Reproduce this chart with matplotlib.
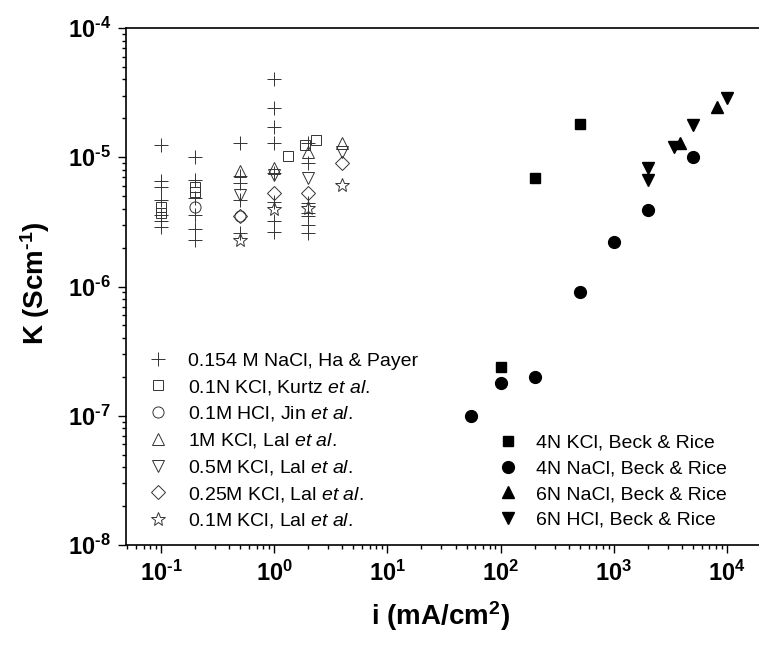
import math
import matplotlib
matplotlib.use("Agg")
import matplotlib.pyplot as plt
from matplotlib.lines import Line2D
from matplotlib.ticker import FuncFormatter, LogLocator, NullFormatter

plt.rcParams['font.family'] = ['Liberation Sans', 'DejaVu Sans']
plt.rcParams['mathtext.fontset'] = 'custom'
plt.rcParams['mathtext.rm'] = 'Liberation Sans'
plt.rcParams['mathtext.it'] = 'Liberation Sans:italic'
plt.rcParams['mathtext.bf'] = 'Liberation Sans:bold'

# --- datos ---
# 0.154 M NaCl, Ha & Payer (+)
ha_x = [0.1, 0.1, 0.1, 0.1, 0.1, 0.1, 0.1,
        0.2, 0.2, 0.2, 0.2, 0.2, 0.2,
        0.5, 0.5, 0.5, 0.5, 0.5,
        1.0, 1.0, 1.0, 1.0, 1.0, 1.0, 1.0, 1.0,
        2.0, 2.0, 2.0, 2.0, 2.0, 2.0, 2.0]
ha_y = [1.25e-5, 6.5e-6, 5.9e-6, 4.7e-6, 3.6e-6, 3.2e-6, 2.9e-6,
        1.0e-5, 6.7e-6, 4.8e-6, 3.6e-6, 2.8e-6, 2.3e-6,
        1.3e-5, 7.1e-6, 6.3e-6, 4.7e-6, 2.6e-6,
        4.0e-5, 2.4e-5, 1.7e-5, 1.29e-5, 7.6e-6, 4.5e-6, 3.2e-6, 2.65e-6,
        1.3e-5, 9.1e-6, 4.4e-6, 3.7e-6, 3.5e-6, 3.0e-6, 2.6e-6]

# 0.1N KCl, Kurtz et al. (cuadrado abierto)
kurtz_x = [0.1, 0.1, 0.2, 0.2, 1.33, 1.87, 2.34]
kurtz_y = [4.1e-6, 3.7e-6, 5.9e-6, 5.4e-6, 1.03e-5, 1.25e-5, 1.36e-5]

# 0.1M HCl, Jin et al. (circulo abierto)
jin_x = [0.2, 0.5]
jin_y = [4.1e-6, 3.5e-6]

# Lal et al.
lal_x = [0.5, 1.0, 2.0, 4.0]
lal_1m = [7.8e-6, 8.3e-6, 1.09e-5, 1.28e-5]
lal_05m = [5.1e-6, 7.3e-6, 6.95e-6, 1.09e-5]
lal_025m = [3.5e-6, 5.25e-6, 5.25e-6, 9.0e-6]
lal_01m = [2.3e-6, 4.0e-6, 4.05e-6, 6.1e-6]

# Beck & Rice (simbolos rellenos)
kcl4_x = [100, 200, 500]
kcl4_y = [2.4e-7, 6.9e-6, 1.8e-5]
nacl4_x = [55, 100, 200, 500, 1000, 2000, 5000]
nacl4_y = [1.0e-7, 1.8e-7, 2.0e-7, 9.1e-7, 2.2e-6, 3.9e-6, 1.0e-5]
nacl6_x = [3850, 8200]
nacl6_y = [1.29e-5, 2.45e-5]
hcl6_x = [2000, 2000, 3400, 5000, 10000]
hcl6_y = [8.2e-6, 6.7e-6, 1.2e-5, 1.78e-5, 2.85e-5]

labels_open = ['0.154 M NaCl, Ha & Payer',
               r'0.1N KCl, Kurtz $\it{et\ al.}$',
               r'0.1M HCl, Jin $\it{et\ al.}$',
               r'1M KCl, Lal $\it{et\ al.}$',
               r'0.5M KCl, Lal $\it{et\ al.}$',
               r'0.25M KCl, Lal $\it{et\ al.}$',
               r'0.1M KCl, Lal $\it{et\ al.}$']
labels_filled = ['4N KCl, Beck & Rice', '4N NaCl, Beck & Rice',
                 '6N NaCl, Beck & Rice', '6N HCl, Beck & Rice']

HYPH = '\u2010'

fig = plt.figure(figsize=(7.59, 6.5), dpi=100)
ax = fig.add_axes([0.166, 0.1615, 0.834, 0.7954])

c_open = '#333333'
open_kw = dict(linestyle='none', markerfacecolor='none', markeredgecolor=c_open, markeredgewidth=0.7)
ax.plot(ha_x, ha_y, marker='+', markersize=10, **open_kw)
ax.plot(kurtz_x, kurtz_y, marker='s', markersize=7.5, **open_kw)
ax.plot(jin_x, jin_y, marker='o', markersize=8, **open_kw)
ax.plot(lal_x, lal_1m, marker='^', markersize=9, **open_kw)
ax.plot(lal_x, lal_05m, marker='v', markersize=9, **open_kw)
ax.plot(lal_x, lal_025m, marker='D', markersize=7.5, **open_kw)
ax.plot(lal_x, lal_01m, marker='*', markersize=10, **open_kw)

fill_kw = dict(linestyle='none', color='black')
ax.plot(kcl4_x, kcl4_y, marker='s', markersize=7.5, **fill_kw)
ax.plot(nacl4_x, nacl4_y, marker='o', markersize=8.5, **fill_kw)
ax.plot(nacl6_x, nacl6_y, marker='^', markersize=9, **fill_kw)
ax.plot(hcl6_x, hcl6_y, marker='v', markersize=9, **fill_kw)

ax.set_xscale('log')
ax.set_yscale('log')
ax.set_xlim(0.049, 1.92e4)
ax.set_ylim(1e-8, 1e-4)


def pow_label(v, pos):
    e = round(math.log10(v))
    if e < 0:
        return '$\\mathbf{10^{' + HYPH + str(-e) + '}}$'
    return '$\\mathbf{10^{' + str(e) + '}}$'


fmt = FuncFormatter(pow_label)
ax.xaxis.set_major_locator(LogLocator(base=10, numticks=20))
ax.yaxis.set_major_locator(LogLocator(base=10, numticks=20))
ax.xaxis.set_minor_locator(LogLocator(base=10, subs=range(2, 10), numticks=20))
ax.yaxis.set_minor_locator(LogLocator(base=10, subs=range(2, 10), numticks=20))
ax.xaxis.set_major_formatter(fmt)
ax.yaxis.set_major_formatter(fmt)
ax.xaxis.set_minor_formatter(NullFormatter())
ax.yaxis.set_minor_formatter(NullFormatter())
ax.tick_params(which='major', direction='out', length=6, width=1, labelsize=17, pad=5)
ax.tick_params(which='minor', direction='out', length=3, width=1)
ax.tick_params(top=False, right=False)

for s in ['left', 'bottom', 'top']:
    ax.spines[s].set_linewidth(1.2)
ax.spines['right'].set_visible(False)

ax.set_xlabel(r'$\mathbf{i\ (mA/cm^2)}$', fontsize=20)
ax.set_ylabel('$\\mathbf{K\\ (Scm^{' + HYPH + '1})}$', fontsize=20)
ax.xaxis.set_label_coords(0.496, -0.105)
ax.yaxis.set_label_coords(-0.117, 0.507)

h_open = [Line2D([], [], marker=m, markersize=ms, **open_kw)
          for m, ms in [('+', 10), ('s', 7.5), ('o', 8), ('^', 9), ('v', 9), ('D', 7.5), ('*', 10)]]
leg1 = ax.legend(h_open, labels_open, loc='upper left', bbox_to_anchor=(0.035, 0.373),
                 frameon=False, fontsize=14, handlelength=1.0, handletextpad=1.05,
                 labelspacing=0.40, borderpad=0, borderaxespad=0)
ax.add_artist(leg1)

h_fill = [Line2D([], [], marker=m, markersize=ms, **fill_kw)
          for m, ms in [('s', 7.5), ('o', 8.5), ('^', 9), ('v', 9)]]
ax.legend(h_fill, labels_filled, loc='upper left', bbox_to_anchor=(0.588, 0.214),
          frameon=False, fontsize=14, handlelength=1.0, handletextpad=0.95,
          labelspacing=0.41, borderpad=0, borderaxespad=0)

fig.savefig('out.png', dpi=100)
